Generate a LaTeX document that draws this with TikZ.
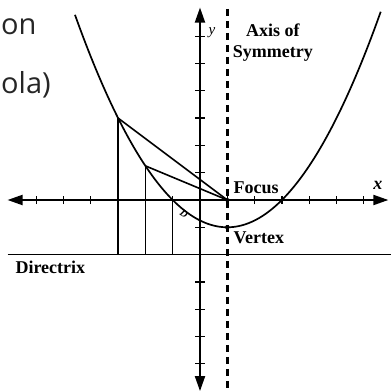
\documentclass[tikz,border=0pt]{standalone}
\usepackage{fontspec}
\setmainfont{Liberation Serif}
\newfontfamily\handfont{Open Sans}
\usetikzlibrary{arrows.meta}
\begin{document}
\begin{tikzpicture}[x=27.3pt, y=27.3pt,
    axis/.style={line width=1.9pt, {Triangle[length=15pt,width=10pt]}-{Triangle[length=15pt,width=10pt]}},
    guide/.style={line width=1.6pt},
    lab/.style={font=\fontsize{18}{21}\selectfont\bfseries, inner sep=1pt},
    hand/.style={font=\handfont\fontsize{29}{29}\selectfont, text=black!85, inner sep=0pt}]
    \useasboundingbox (-7.326,-7.033) rectangle (6.960,7.326);

    % key points
    \coordinate (focus) at (1,0);
    \coordinate (vertex) at (1,-1);
    \coordinate (P1) at (-3,3);
    \coordinate (P2) at (-2,1.25);
    \coordinate (P3) at (-1,0);
    \coordinate (D1) at (-3,-2);
    \coordinate (D2) at (-2,-2);
    \coordinate (D3) at (-1,-2);
    \coordinate (dl) at (-7.05,-2);
    \coordinate (dr) at (7,-2);

    % axes with ticks
    \draw[axis] (-7.05,0) coordinate (xl) -- (6.9,0) coordinate (xr);
    \draw[axis] (0,-7.0) coordinate (yb) -- (0,7.05) coordinate (yt);
    \foreach \i in {-6,...,-1,1,2,...,6} {
        \draw[line width=1.3pt] (\i,-0.15) -- (\i,0.15);
        \draw[line width=1.3pt] (-0.18,\i) -- (0.18,\i);
    }

    % axis of symmetry
    \draw[line width=2.6pt, dash pattern=on 7pt off 5pt] (1,7.0) -- (1,-7.1);

    % directrix
    \draw[guide] (dl) -- (dr);

    % the parabola
    \draw[line width=1.7pt, domain=-4.58:6.62, samples=80, smooth]
        plot (\x, {(\x-1)*(\x-1)/4-1});

    % equal distances
    \draw[guide] (P1) -- (D1);
    \draw[guide] (P2) -- (D2);
    \draw[guide] (P3) -- (D3);
    \draw[guide] (P1) -- (focus);
    \draw[guide] (P2) -- (focus);
    \fill (vertex) circle (2.2pt);
    \fill (focus) circle (2pt);

    % labels
    \node[lab, anchor=west] at (1.19,0.44) {Focus};
    \node[lab, anchor=west] at (1.19,-1.39) {Vertex};
    \node[lab, anchor=west] at (-6.8,-2.45) {Directrix};
    \node[lab, align=center] at (2.67,5.75) {Axis of\\Symmetry};
    \node[lab, font=\fontsize{18}{21}\selectfont\bfseries\itshape] at (6.52,0.55) {x};
    \node[font=\fontsize{15}{18}\selectfont\itshape] at (0.44,6.12) {y};
    \node[font=\fontsize{10}{12}\selectfont\bfseries\itshape, rotate=-35] at (-0.59,-0.51) {D};

    % handwriting at the edge
    \node[hand, anchor=base west] at (-7.29,6.05) {on};
    \node[hand, anchor=base west] at (-7.29,3.9) {ola)};
\end{tikzpicture}
\end{document}
